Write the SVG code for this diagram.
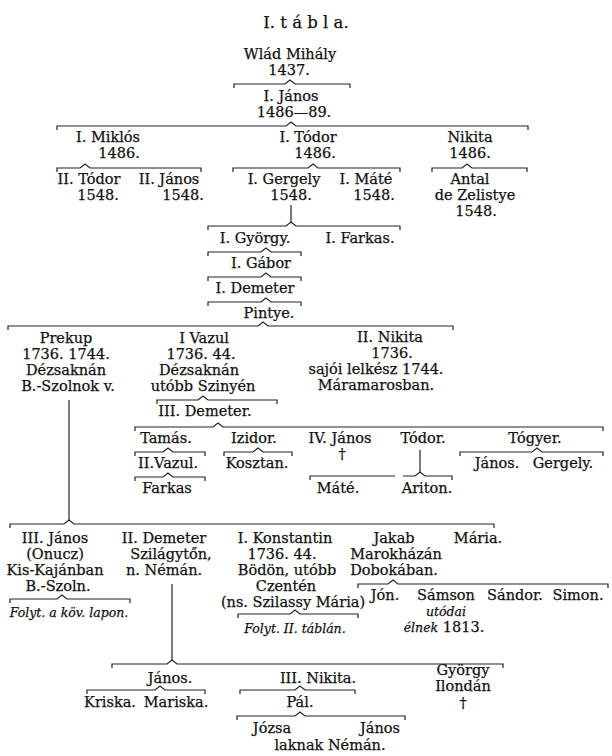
<svg xmlns="http://www.w3.org/2000/svg" width="612" height="756" viewBox="0 0 612 756">
<style>
text { font-family: "DejaVu Serif", "Liberation Serif", serif; font-size: 14.5px; fill: #111; stroke: #111; stroke-width: 0.25; text-anchor: middle; }
.title { font-size: 16.5px; }
.it { font-style: italic; font-size: 12.5px; }
.br { fill: none; stroke: #222; stroke-width: 1.2; stroke-linejoin: miter; }
</style>
<rect width="612" height="756" fill="#fff"/>
<text class="title" x="306" y="28">I. t á b l a.</text>

<g id="connectors" class="br">
  <path d="M234 88 V84 H285 L290 80 L295 84 H350 V88"/>
  <path d="M57 130 V126 H286 L291 122 L296 126 H528 V130"/>
  <path d="M57 172 V168 H80 L85 164 L90 168 H201 V172"/>
  <path d="M233 172 V168 H308 L313 164 L318 168 H400 V172"/>
  <path d="M432 172 V168 H462 L467 164 L472 168 H527 V172"/>
  <path d="M291 205 V222"/>
  <path d="M208 230 V226 H286 L291 222 L296 226 H400 V230"/>
  <path d="M208 256 V252 H261 L266 248 L271 252 H301 V256"/>
  <path d="M208 281 V277 H261 L266 273 L271 277 H301 V281"/>
  <path d="M208 306 V302 H261 L266 298 L271 302 H301 V306"/>
  <path d="M8 330 V326 H258 L263 322 L268 326 H453 V330"/>
  <path d="M157 404 V400 H198 L203 396 L208 400 H277 V404"/>
  <path d="M135 431 V427 H213 L218 423 L223 427 H603 V431"/>
  <path d="M135 456 V452 H163 L168 448 L173 452 H205 V456"/>
  <path d="M135 481 V477 H163 L168 473 L173 477 H205 V481"/>
  <path d="M224 456 V452 H253 L258 448 L263 452 H292 V456"/>
  <path d="M310 480 V476 H395"/>
  <path d="M420 450 V472"/>
  <path d="M403 476 H415 L420 472 L425 476 H452 V480"/>
  <path d="M460 456 V452 H532 L537 448 L542 452 H603 V456"/>
  <path d="M69 400 V520"/>
  <path d="M10 528 V524 H64 L69 520 L74 524 H494 V528"/>
  <path d="M10 603 V599 H57 L62 595 L67 599 H130 V603"/>
  <path d="M358 588 V584 H388 L393 580 L398 584 H608 V588"/>
  <path d="M238 618 V614 H290 L295 610 L300 614 H358 V618"/>
  <path d="M172 584 V660"/>
  <path d="M112 668 V664 H167 L172 660 L177 664 H503 V668"/>
  <path d="M87 694 V690 H155 L160 686 L165 690 H205 V694"/>
  <path d="M240 694 V690 H295 L300 686 L305 690 H355 V694"/>
  <path d="M237 720 V716 H295 L300 712 L305 716 H405 V720"/>
</g>

<g id="n_wlad"><text x="290" y="59">Wlád Mihály</text><text x="289" y="75">1437.</text></g>
<g id="n_janos1"><text x="291" y="101">I. János</text><text x="294" y="117">1486—89.</text></g>
<g id="n_miklos"><text x="108" y="142">I. Miklós</text><text x="119" y="158">1486.</text></g>
<g id="n_todor1"><text x="308" y="142">I. Tódor</text><text x="315" y="158">1486.</text></g>
<g id="n_nikita1"><text x="470" y="142">Nikita</text><text x="470" y="158">1486.</text></g>
<g id="n_todor2"><text x="89" y="184">II. Tódor</text><text x="98" y="200">1548.</text></g>
<g id="n_janos2"><text x="169" y="184">II. János</text><text x="183" y="200">1548.</text></g>
<g id="n_gergely1"><text x="284" y="184">I. Gergely</text><text x="291" y="200">1548.</text></g>
<g id="n_mate1"><text x="366" y="184">I. Máté</text><text x="374" y="200">1548.</text></g>
<g id="n_antal"><text x="470" y="184">Antal</text><text x="475" y="200">de Zelistye</text><text x="476" y="216">1548.</text></g>
<g id="n_gyorgy1"><text x="255" y="243">I. György.</text></g>
<g id="n_farkas1"><text x="360" y="243">I. Farkas.</text></g>
<g id="n_gabor"><text x="261" y="268">I. Gábor</text></g>
<g id="n_demeter1"><text x="255" y="293">I. Demeter</text></g>
<g id="n_pintye"><text x="269" y="318">Pintye.</text></g>
<g id="n_prekup"><text x="66" y="343">Prekup</text><text x="66" y="359">1736. 1744.</text><text x="66" y="375">Dézsaknán</text><text x="68" y="391">B.-Szolnok v.</text></g>
<g id="n_vazul1"><text x="204" y="343">I Vazul</text><text x="201" y="359">1736. 44.</text><text x="199" y="375">Dézsaknán</text><text x="203" y="391">utóbb Szinyén</text></g>
<g id="n_nikita2"><text x="390" y="342">II. Nikita</text><text x="392" y="358">1736.</text><text x="376" y="374">sajói lelkész 1744.</text><text x="376" y="390">Máramarosban.</text></g>
<g id="n_demeter3"><text x="205" y="416">III. Demeter.</text></g>
<g id="n_tamas"><text x="166" y="443">Tamás.</text></g>
<g id="n_izidor"><text x="254" y="443">Izidor.</text></g>
<g id="n_janos4"><text x="340" y="443">IV. János</text><text x="342" y="459">†</text></g>
<g id="n_todor3"><text x="423" y="443">Tódor.</text></g>
<g id="n_togyer"><text x="535" y="443">Tógyer.</text></g>
<g id="n_vazul2"><text x="168" y="468">II.Vazul.</text></g>
<g id="n_kosztan"><text x="257" y="468">Kosztan.</text></g>
<g id="n_janos5"><text x="497" y="468">János.</text></g>
<g id="n_gergely2"><text x="563" y="468">Gergely.</text></g>
<g id="n_farkas2"><text x="167" y="493">Farkas</text></g>
<g id="n_mate2"><text x="338" y="493">Máté.</text></g>
<g id="n_ariton"><text x="427" y="493">Ariton.</text></g>
<g id="n_janos3"><text x="55" y="543">III. János</text><text x="55" y="559">(Onucz)</text><text x="55" y="575">Kis-Kajánban</text><text x="58" y="591">B.-Szoln.</text></g>
<g id="n_folyt1"><text class="it" x="69" y="617">Folyt. a köv. lapon.</text></g>
<g id="n_demeter2"><text x="164" y="543">II. Demeter</text><text x="171" y="559">Szilágytőn,</text><text x="164" y="575">n. Némán.</text></g>
<g id="n_konstantin"><text x="285" y="543">I. Konstantin</text><text x="282" y="559">1736. 44.</text><text x="287" y="575">Bödön, utóbb</text><text x="286" y="591">Czentén</text><text x="293" y="607">(ns. Szilassy Mária)</text></g>
<g id="n_folyt2"><text class="it" x="295" y="633">Folyt. II. táblán.</text></g>
<g id="n_jakab"><text x="394" y="543">Jakab</text><text x="396" y="559">Marokházán</text><text x="394" y="575">Dobokában.</text></g>
<g id="n_maria"><text x="478" y="543">Mária.</text></g>
<g id="n_jon"><text x="385" y="600">Jón.</text></g>
<g id="n_samson"><text x="446" y="600">Sámson</text><text class="it" x="446" y="616">utódai</text><text x="444" y="632"><tspan font-style="italic" font-size="12.5">élnek</tspan> 1813.</text></g>
<g id="n_sandor"><text x="515" y="600">Sándor.</text></g>
<g id="n_simon"><text x="578" y="600">Simon.</text></g>
<g id="n_janos6"><text x="170" y="683">János.</text></g>
<g id="n_nikita3"><text x="318" y="683">III. Nikita.</text></g>
<g id="n_gyorgy2"><text x="463" y="675">György</text><text x="463" y="691">Ilondán</text><text x="463" y="708">†</text></g>
<g id="n_kriska"><text x="110" y="707">Kriska.</text></g>
<g id="n_mariska"><text x="176" y="707">Mariska.</text></g>
<g id="n_pal"><text x="300" y="707">Pál.</text></g>
<g id="n_jozsa_janos"><text x="272" y="733">Józsa</text><text x="380" y="733">János</text><text x="330" y="750">laknak Némán.</text></g>
</svg>
